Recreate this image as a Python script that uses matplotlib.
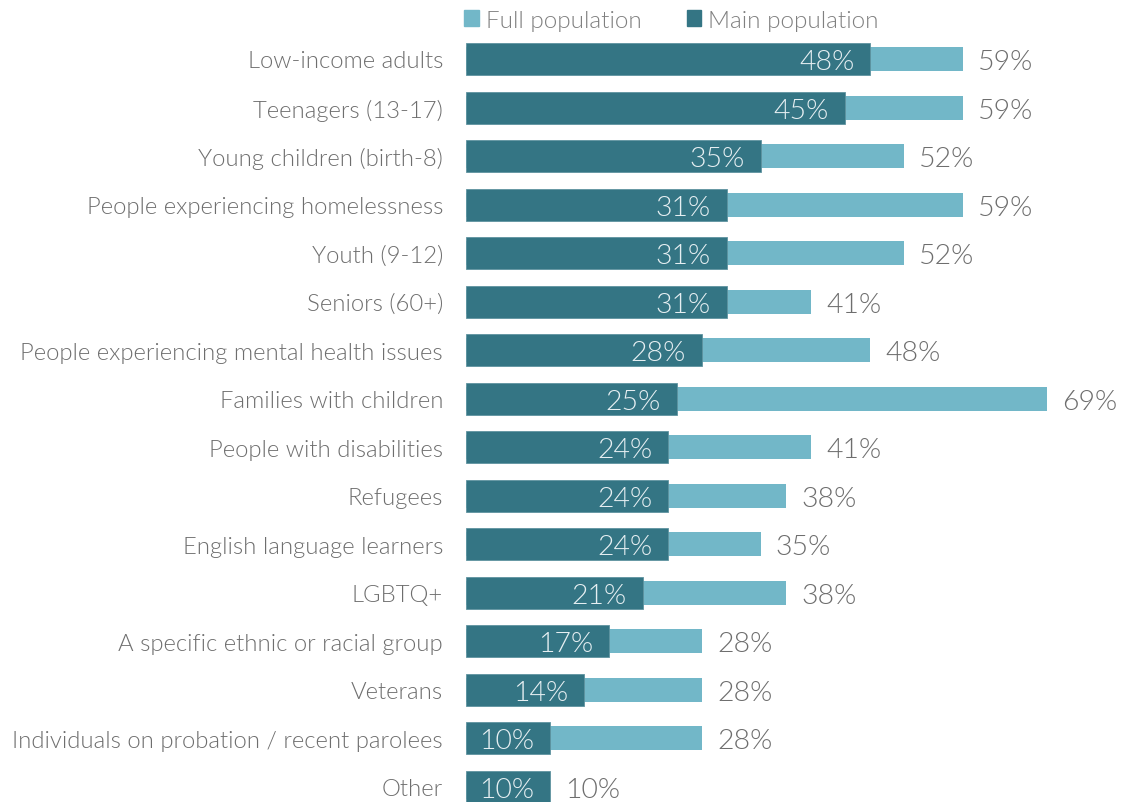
import matplotlib
matplotlib.use("Agg")
import matplotlib.pyplot as plt
from matplotlib.patches import Patch

categories = ["Low-income adults", "Teenagers (13-17)", "Young children (birth-8)",
              "People experiencing homelessness", "Youth (9-12)", "Seniors (60+)",
              "People experiencing mental health issues", "Families with children",
              "People with disabilities", "Refugees", "English language learners",
              "LGBTQ+", "A specific ethnic or racial group", "Veterans",
              "Individuals on probation / recent parolees", "Other"]
main_pop = [48, 45, 35, 31, 31, 31, 28, 25, 24, 24, 24, 21, 17, 14, 10, 10]
full_pop = [59, 59, 52, 59, 52, 41, 48, 69, 41, 38, 35, 38, 28, 28, 28, 10]

DARK = "#347584"
LIGHT = "#72b7c8"
GRAY = "#6e6e6e"

plt.rcParams['font.family'] = ['Lato', 'DejaVu Sans']
plt.rcParams['font.weight'] = 300

W, H = 1123, 803
fig = plt.figure(figsize=(W / 100, H / 100), dpi=100)
x0 = 466
pxper = 8.42
xmax = 75
ax = fig.add_axes([x0 / W, 0, xmax * pxper / W, 1])
row = 48.53
ax.set_ylim((H - 60) / row, -60 / row)
ax.set_xlim(0, xmax)

ys = list(range(len(categories)))
ax.barh(ys, full_pop, height=24 / row, color=LIGHT, zorder=1)
ax.barh(ys, main_pop, height=32 / row, color=DARK, zorder=2, edgecolor="#5f93a0", linewidth=0.6)

for y, m, f, c in zip(ys, main_pop, full_pop, categories):
    ax.text(m - 1.9, y, f"{m}%", ha="right", va="center_baseline", color="#e6eff2",
            fontsize=20.5, zorder=3, weight=300)
    ax.text(f + 1.8, y, f"{f}%", ha="left", va="center_baseline", color=GRAY,
            fontsize=20.5, zorder=3, weight=300)
    ax.text(-23 / pxper, y, c, ha="right", va="center_baseline", color=GRAY, fontsize=17.2,
            weight=300)

for s in ax.spines.values():
    s.set_visible(False)
ax.set_xticks([])
ax.set_yticks([])

handles = [Patch(color=LIGHT, label="Full population"), Patch(color=DARK, label="Main population")]
leg = fig.legend(handles=handles, ncol=2, frameon=False, loc="center left",
                 bbox_to_anchor=(464 / W, 1 - 21 / H), handlelength=0.6, handleheight=0.6,
                 handletextpad=0.3, columnspacing=1.85, borderaxespad=0,
                 borderpad=0, prop={'weight': 300, 'size': 17.5})
for t in leg.get_texts():
    t.set_color("#808080")

fig.savefig("out.png", dpi=100)
